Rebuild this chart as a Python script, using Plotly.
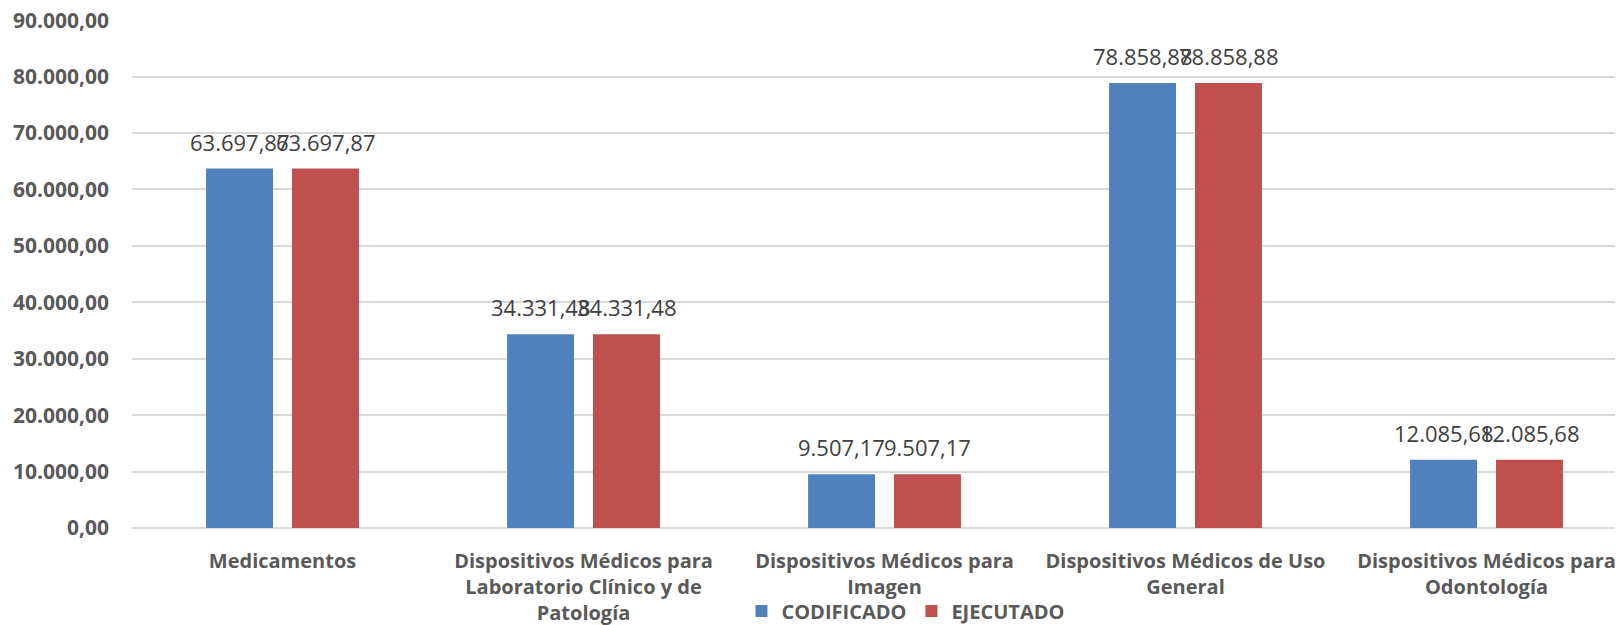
import plotly.graph_objects as go

categories = [
    "Medicamentos",
    "Dispositivos Médicos para<br>Laboratorio Clínico y de<br>Patología",
    "Dispositivos Médicos para<br>Imagen",
    "Dispositivos Médicos de Uso<br>General",
    "Dispositivos Médicos para<br>Odontología",
]
codificado = [63697.87, 34331.48, 9507.17, 78858.88, 12085.68]
ejecutado = [63697.87, 34331.48, 9507.17, 78858.88, 12085.68]
tick_vals = [0, 10000, 20000, 30000, 40000, 50000, 60000, 70000, 80000, 90000]
tick_text = ["0,00", "10.000,00", "20.000,00", "30.000,00", "40.000,00",
             "50.000,00", "60.000,00", "70.000,00", "80.000,00", "90.000,00"]


def fmt(v):
    s = f"{v:,.2f}"
    return s.replace(",", "X").replace(".", ",").replace("X", ".")


FONT = "Open Sans"
SLOT_SHIFT = 43

fig = go.Figure()
for name, vals, color, shift in [("CODIFICADO", codificado, "#4f81bd", -SLOT_SHIFT),
                                 ("EJECUTADO", ejecutado, "#c0504d", SLOT_SHIFT)]:
    fig.add_trace(go.Bar(
        name=name, x=categories, y=vals, marker_color=color,
        marker_line_width=0,
    ))
    for c, v in zip(categories, vals):
        fig.add_annotation(x=c, y=v, text=fmt(v), showarrow=False,
                           xshift=shift, yshift=27, yanchor="middle",
                           font=dict(family=FONT, size=22, color="#404040"))

# the page body adds an 8px offset, so the figure is 8px smaller than the window
fig.update_layout(
    width=1615, height=617,
    margin=dict(l=124, r=0, t=12, b=97, autoexpand=False),
    paper_bgcolor="white", plot_bgcolor="white",
    barmode="group", bargap=0.429, bargroupgap=0.221,
    font=dict(family=FONT),
    showlegend=True,
    legend=dict(orientation="h", xref="container", yref="container",
                x=0.5557, xanchor="center", y=0.0227, yanchor="middle",
                bgcolor="rgba(0,0,0,0)",
                font=dict(family=FONT, size=20, color="#595959", weight="bold"),
                itemwidth=30, traceorder="normal"),
    xaxis=dict(tickfont=dict(family=FONT, size=20, color="#595959", weight="bold"),
               range=[-0.5, 4.4535],
               showline=False, ticks="", automargin=False, ticklabelstandoff=19),
    yaxis=dict(range=[0, 90030], tickvals=tick_vals, ticktext=tick_text,
               tickfont=dict(family=FONT, size=21, color="#595959", weight="bold"),
               ticklabeloverflow="allow",
               gridcolor="#d9d9d9", gridwidth=1.5, zeroline=True, zerolinecolor="#d9d9d9",
               zerolinewidth=1.5, ticks="", ticklabelstandoff=22, automargin=False),
)

fig.write_html("out.html")
